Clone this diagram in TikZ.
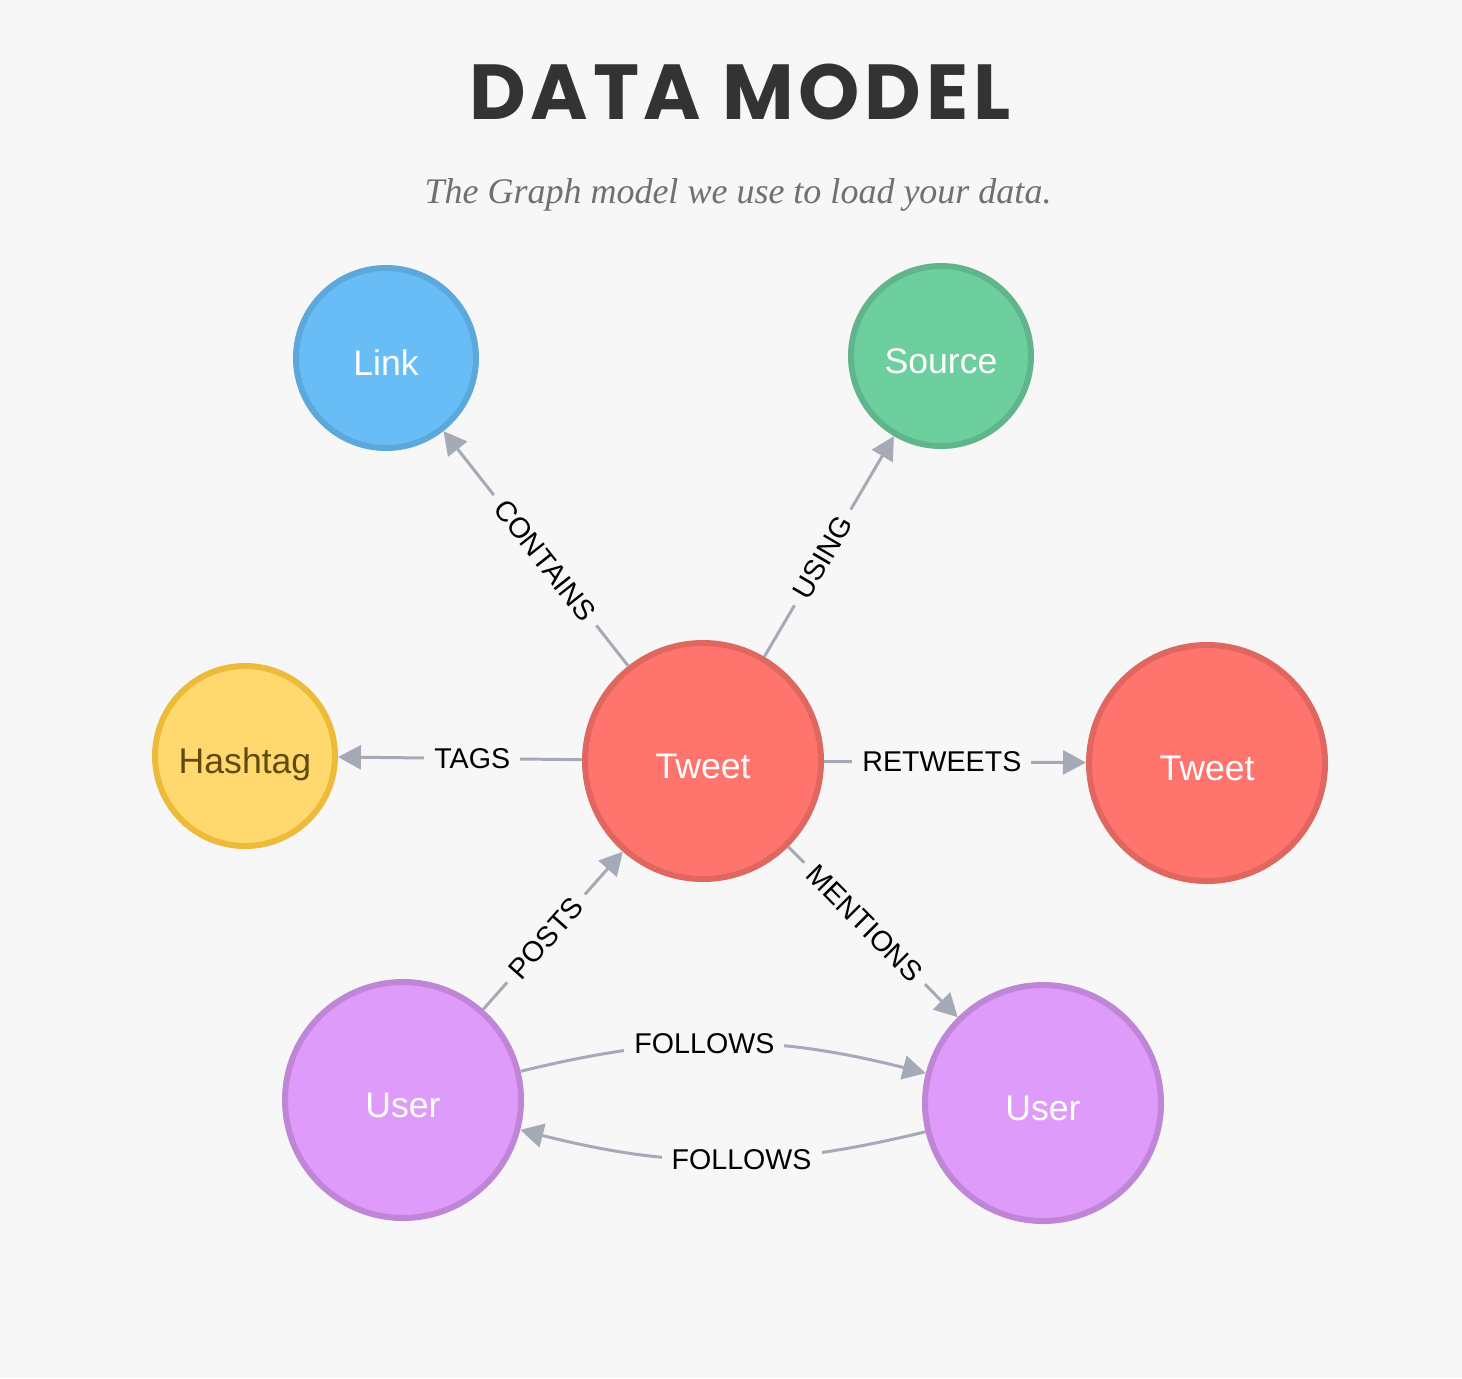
\documentclass[tikz,border=0pt]{standalone}
\usepackage{fontspec}
\setmainfont{Liberation Sans}
\newfontfamily\titlefont{Poppins}[LetterSpace=6]
\newfontfamily\subfont{Liberation Serif}
\usetikzlibrary{arrows.meta}
\definecolor{bg}{HTML}{F7F7F7}
\definecolor{edge}{HTML}{A5ABB6}
\definecolor{linkfill}{HTML}{68BDF6}
\definecolor{linkline}{HTML}{5CA8DB}
\definecolor{srcfill}{HTML}{6DCE9E}
\definecolor{srcline}{HTML}{60B58B}
\definecolor{tagfill}{HTML}{FFD86E}
\definecolor{tagline}{HTML}{EDBA39}
\definecolor{tagtext}{HTML}{604A0E}
\definecolor{tweetfill}{HTML}{FF756E}
\definecolor{tweetline}{HTML}{E06760}
\definecolor{userfill}{HTML}{DE9BF9}
\definecolor{userline}{HTML}{BF85D6}
\begin{document}
\begin{tikzpicture}[x=0.5pt,y=-0.5pt]
\tikzstyle{ent}= [circle,line width=3pt,minimum size=118pt,inner sep=0pt,text=white,text height=17.3pt,text depth=0pt,font=\fontsize{17.8}{20}\selectfont]
\tikzstyle{small}= [ent,minimum size=90pt]
\tikzstyle{rel}= [-{Triangle[length=11.5pt,width=12pt]},line width=1.5pt,draw=edge]
\tikzstyle{lbl}= [fill=bg,inner xsep=5pt,inner ysep=1pt,pos=0.45,text=black,font=\fontsize{14.3}{16}\selectfont]

\fill[bg] (0,0) rectangle (1462,1378);

\path
	(740, 92) node (title) {\titlefont\bfseries\fontsize{39}{44}\selectfont\color[HTML]{333333}DATA MODEL}
	(738,195) node (sub) {\subfont\itshape\fontsize{18}{22}\selectfont\color[HTML]{707070}The Graph model we use to load your data.}
	(386, 358) node[small,fill=linkfill,draw=linkline] (link) {Link}
	(941, 356) node[small,fill=srcfill,draw=srcline] (source) {Source}
	(245, 756) node[small,fill=tagfill,draw=tagline,text=tagtext] (hashtag) {Hashtag}
	(703, 761) node[ent,fill=tweetfill,draw=tweetline] (tweet) {Tweet}
	(1207,763) node[ent,fill=tweetfill,draw=tweetline] (retweet) {Tweet}
	(403,1100) node[ent,fill=userfill,draw=userline] (userA) {User}
	(1043,1103) node[ent,fill=userfill,draw=userline] (userB) {User}
;
\draw[rel] (tweet) -- node[lbl,sloped] {CONTAINS} (link);
\draw[rel] (tweet) -- node[lbl,sloped] {USING} (source);
\draw[rel] (tweet) -- node[lbl] {TAGS} (hashtag);
\draw[rel] (tweet) -- node[lbl] {RETWEETS} (retweet);
\draw[rel] (tweet) -- node[lbl,sloped] {MENTIONS} (userB);
\draw[rel] (userA) -- node[lbl,sloped] {POSTS} (tweet);
\draw[rel] (userA) to[bend left=14] node[lbl] {FOLLOWS} (userB);
\draw[rel] (userB) to[bend left=14] node[lbl] {FOLLOWS} (userA);
\end{tikzpicture}
\end{document}
